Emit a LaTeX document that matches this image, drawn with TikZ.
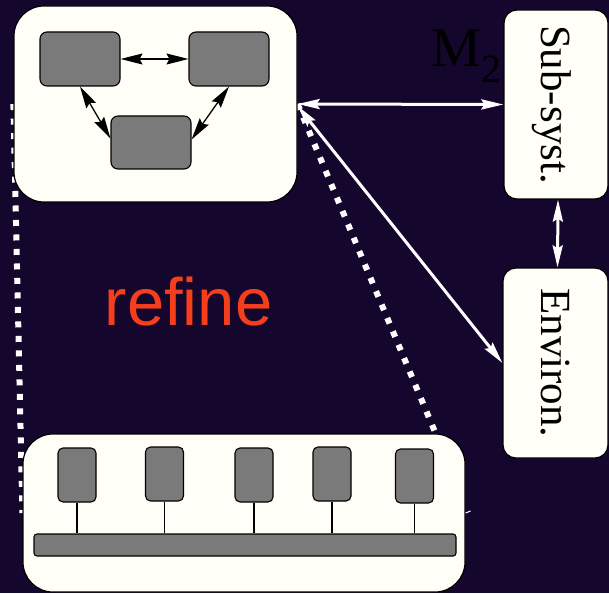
\documentclass[tikz,border=0pt]{standalone}
\usepackage{fontspec}
\setmainfont{Liberation Serif}
\newfontfamily\sansf{Liberation Sans}
\usetikzlibrary{arrows.meta}
\pgfdeclarelayer{bgfill}
\pgfdeclarelayer{behind}
\pgfsetlayers{bgfill,behind,main}
\definecolor{bg}{RGB}{20,6,44}
\definecolor{ivory}{RGB}{255,255,247}
\definecolor{boxgray}{RGB}{122,122,122}
\definecolor{refred}{RGB}{245,62,28}
\begin{document}
\begin{tikzpicture}[x=1pt,y=-1pt,
  bigbox/.style={draw=black, line width=1.2pt, fill=ivory, rounded corners=30pt, inner sep=0pt},
  sysbox/.style={draw=black, line width=1.2pt, fill=ivory, rounded corners=13pt, inner sep=0pt, font=\fontsize{43}{43}\selectfont},
  graybox/.style={draw=black, line width=1.1pt, fill=boxgray, rounded corners=7pt, inner sep=0pt},
  smallbox/.style={graybox, rounded corners=5pt, minimum width=38pt, minimum height=54pt},
  blackarrow/.style={line width=1.3pt, {Stealth[length=22pt,width=11pt,inset=3pt]}-{Stealth[length=22pt,width=11pt,inset=3pt]}},
  whitearrow/.style={draw=white, line width=3pt, {Stealth[length=22pt,width=10pt,inset=3pt]}-{Stealth[length=22pt,width=10pt,inset=3pt]}},
  dotline/.style={draw=white, line width=6pt, dash pattern=on 6pt off 8.5pt},
  busline/.style={line width=1.3pt},
]
\begin{pgfonlayer}{bgfill}
\fill[bg] (0,0) rectangle (609,593);
\end{pgfonlayer}
\useasboundingbox (0,0) rectangle (609,593);

% big boxes
\node[bigbox, minimum width=283pt, minimum height=196pt] (top) at (155.5,104) {};
\node[bigbox, minimum width=442pt, minimum height=158pt] (bot) at (244,513) {};

% system boxes
\node[sysbox, minimum width=104pt, minimum height=189pt] (sub) at (556,104.5) {\rotatebox{-90}{Sub-syst.}\hspace*{8pt}};
\node[sysbox, minimum width=105pt, minimum height=190pt] (env) at (555.5,363) {\rotatebox{-90}{Environ.}};

% inner gray boxes (top)
\node[graybox, minimum width=80pt, minimum height=54pt] (A) at (80,59) {};
\node[graybox, minimum width=80pt, minimum height=54pt] (B) at (229,59) {};
\node[graybox, minimum width=80pt, minimum height=53pt] (C) at (151,142.5) {};

\draw[blackarrow] (A) -- (B);
\draw[blackarrow] (A.south) -- ([yshift=4pt]C.west);
\draw[blackarrow] (B.south) -- ([yshift=3pt]C.east);

% bottom boxes
\node[smallbox] (p1) at (77,475) {};
\node[smallbox] (p2) at (164.5,474) {};
\node[smallbox] (p3) at (254,475) {};
\node[smallbox] (p4) at (332,474) {};
\node[smallbox] (p5) at (414.5,476) {};
\node[graybox, rounded corners=3pt, minimum width=422pt, minimum height=22pt] (bus) at (245,545) {};
\foreach \p in {p1,p2,p3,p4,p5}
  \draw[busline] (\p.south) -- (\p.south |- bus.north);

% dotted refine lines (behind boxes)
\begin{pgfonlayer}{behind}
\draw[dotline] (top.west) -- (bot.west);
\draw[dotline] (top.east) -- ([xshift=-30pt]bot.north east);
\end{pgfonlayer}
\draw[white, line width=1pt] (bot.east) -- ++(5,-2);

% white arrows
\draw[whitearrow] (top.east) -- (sub.west);
\draw[whitearrow] ([yshift=-2pt]top.east) -- (env.west);
\draw[whitearrow] ([xshift=2pt]sub.south) -- ([xshift=2pt]env.north);

% labels
\node[font=\sansf\fontsize{67}{67}\selectfont, text=refred, anchor=base, inner sep=0pt] (refine) at (188.5,325) {refine};
\node[anchor=base west, inner sep=0pt, font=\fontsize{56}{56}\selectfont] (m2) at (431,67) {M\raisebox{-16pt}{\fontsize{40}{40}\selectfont 2}};
\end{tikzpicture}
\end{document}
